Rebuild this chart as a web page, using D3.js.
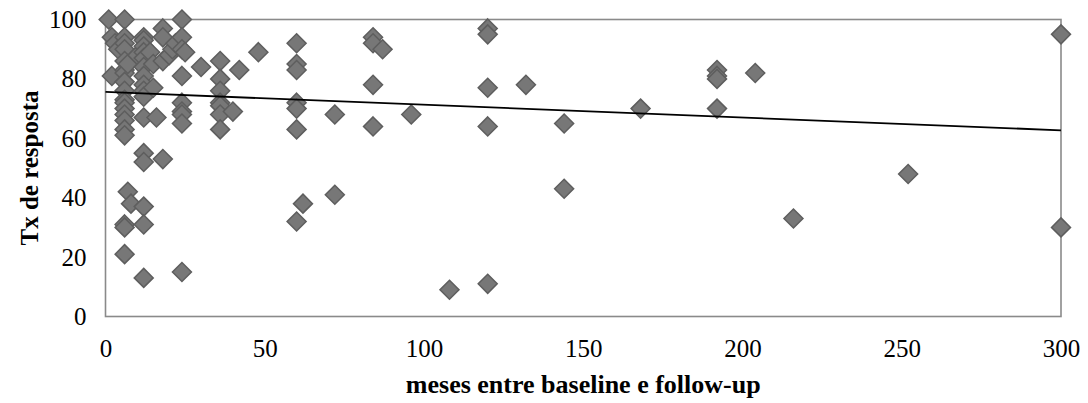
<!DOCTYPE html>
<html>
<head>
<meta charset="utf-8">
<script src="https://cdn.jsdelivr.net/npm/d3@7"></script>
<style>
  body { margin: 0; background: #ffffff; }
  text { font-family: "Liberation Serif", "Times New Roman", serif; fill: #000; }
</style>
</head>
<body>
<div id="chart_div"></div>
<script>
// months between baseline and follow-up
var months = [
    1, 2, 2, 3, 4,
    6, 6, 6, 6, 6, 6, 6, 6, 6, 6, 6, 6, 6, 6, 6, 6, 6, 6, 6,
    7, 7, 8, 10,
    12, 12, 12, 12, 12, 12, 12, 12, 12, 12, 12, 12, 12, 12, 12, 12,
    14, 15, 15, 16, 18, 18, 18, 18, 20, 21, 22,
    24, 24, 24, 24, 24, 24, 24, 24, 24, 25,
    30, 36, 36, 36, 36, 36, 36, 36, 40, 42, 48,
    60, 60, 60, 60, 60, 60, 60, 62,
    72, 72, 84, 84, 84, 84, 87, 96, 108,
    120, 120, 120, 120, 120, 132, 144, 144, 168,
    192, 192, 192, 192, 204, 216, 252, 300, 300
];
// response rate (%)
var response_rate = [
    100, 94, 81, 92, 90,
    100, 94, 92, 90, 86, 83, 82, 79, 76, 73, 72, 70, 68, 66, 63, 61, 31, 30, 21,
    85, 42, 38, 88,
    94, 93, 91, 89, 87, 84, 81, 78, 76, 74, 67, 55, 52, 37, 31, 13,
    89, 85, 77, 67, 97, 94, 86, 53, 88, 90, 92,
    100, 94, 90, 81, 72, 69, 68, 65, 15, 89,
    84, 86, 80, 76, 72, 71, 68, 63, 69, 83, 89,
    92, 85, 83, 72, 70, 63, 32, 38,
    68, 41, 94, 92, 78, 64, 90, 68, 9,
    97, 95, 77, 64, 11, 78, 65, 43, 70,
    83, 81, 80, 70, 82, 33, 48, 95, 30
];

// linear trendline
var trend_x = [0, 300];
var trend_y = [75.6, 62.7];

var x_ticks = [0, 50, 100, 150, 200, 250, 300];
var y_ticks = [0, 20, 40, 60, 80, 100];

var x_title = "meses entre baseline e follow-up";
var y_title = "Tx de resposta";

var chart_width = 1088;
var chart_height = 403;
var margin = {left: 105.5, right: 27, top: 19.5, bottom: 86.5};
var serif = "'Liberation Serif', 'Times New Roman', Times, serif";

var points = months.map(function(m, i) { return [m, response_rate[i]]; });

var svg = d3.select("#chart_div")
    .append("svg")
    .attr("width", chart_width)
    .attr("height", chart_height);

var x_scale = d3.scaleLinear()
    .domain([0, 300])
    .range([margin.left, chart_width - margin.right]);

var y_scale = d3.scaleLinear()
    .domain([0, 100])
    .range([chart_height - margin.bottom, margin.top]);

// plot area frame
svg.append("rect")
    .attr("x", x_scale(0))
    .attr("y", y_scale(100))
    .attr("width", x_scale(300) - x_scale(0))
    .attr("height", y_scale(0) - y_scale(100))
    .attr("fill", "none")
    .attr("stroke", "#8a8a8a")
    .attr("stroke-width", 1.6);

// axes, without tick marks
var x_axis = d3.axisBottom(x_scale).tickValues(x_ticks).tickSize(0).tickPadding(23);
var y_axis = d3.axisLeft(y_scale).tickValues(y_ticks).tickSize(0).tickPadding(19);

svg.append("g")
    .attr("transform", "translate(0," + y_scale(0) + ")")
    .call(x_axis)
    .attr("font-family", serif)
    .attr("font-size", 25)
    .call(function(g) { g.select(".domain").remove(); })
    .selectAll("text")
    .attr("fill", "#000");

svg.append("g")
    .attr("transform", "translate(" + x_scale(0) + ",0)")
    .call(y_axis)
    .attr("font-family", serif)
    .attr("font-size", 25)
    .call(function(g) { g.select(".domain").remove(); })
    .selectAll("text")
    .attr("fill", "#000");

// markers
var r = 9.5;
svg.append("g")
    .selectAll("path")
    .data(points)
    .enter()
    .append("path")
    .attr("transform", function(d) {
        return "translate(" + x_scale(d[0]) + "," + y_scale(d[1]) + ")";
    })
    .attr("d", "M0," + (-r) + "L" + r + ",0L0," + r + "L" + (-r) + ",0Z")
    .attr("fill", "#777777")
    .attr("stroke", "#5e5e5e")
    .attr("stroke-width", 1.5);

// trendline on top
var trend_line = d3.line()
    .x(function(d) { return x_scale(d[0]); })
    .y(function(d) { return y_scale(d[1]); });

svg.append("path")
    .datum(trend_x.map(function(v, i) { return [v, trend_y[i]]; }))
    .attr("d", trend_line)
    .attr("fill", "none")
    .attr("stroke", "#000")
    .attr("stroke-width", 1.8);

// axis titles
svg.append("text")
    .attr("x", (x_scale(0) + x_scale(300)) / 2)
    .attr("y", 393)
    .attr("text-anchor", "middle")
    .attr("font-family", serif)
    .attr("font-size", 26)
    .attr("font-weight", "bold")
    .text(x_title);

svg.append("text")
    .attr("transform", "translate(" + 38 + "," + ((y_scale(0) + y_scale(100)) / 2) + ") rotate(-90)")
    .attr("text-anchor", "middle")
    .attr("font-family", serif)
    .attr("font-size", 25)
    .attr("font-weight", "bold")
    .text(y_title);
</script>
</body>
</html>
